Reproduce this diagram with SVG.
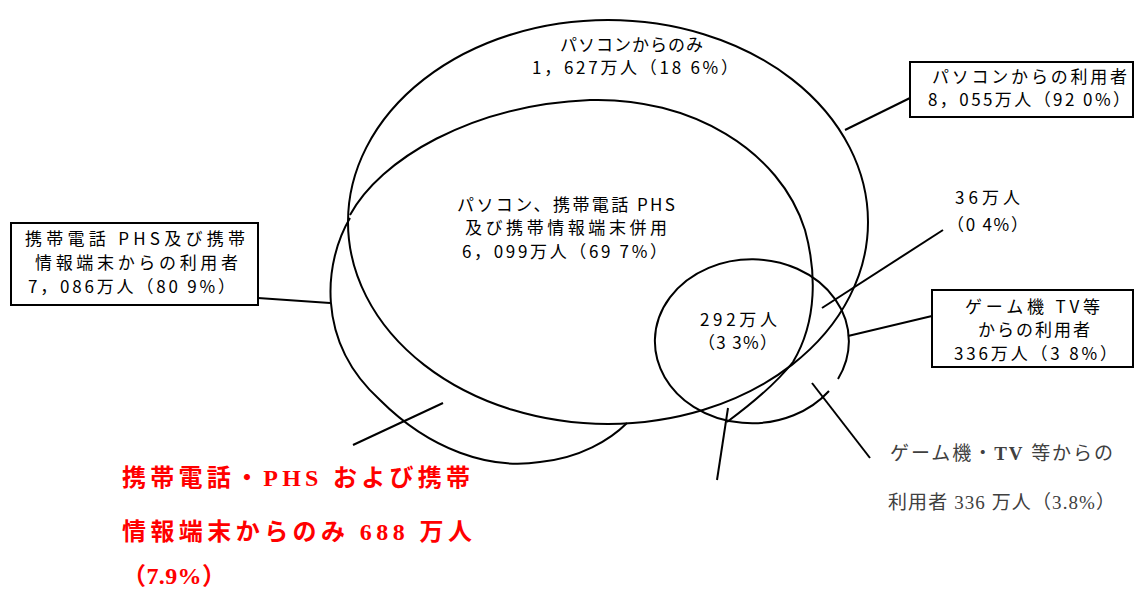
<svg xmlns="http://www.w3.org/2000/svg" width="1136" height="590" viewBox="0 0 1136 590">
<style>
  .ln { fill: none; stroke: #000; stroke-width: 2; }
  .box { fill: #fff; stroke: #000; stroke-width: 2; }
  .hw { font-family: "Noto Sans CJK JP", "Noto Sans", sans-serif; font-size: 17px; fill: #000; }
  .gray { font-family: "Liberation Serif", "Noto Sans CJK JP", serif; font-size: 19px; fill: #404040; }
  .red { font-family: "Liberation Serif", "Noto Sans CJK JP", serif; font-size: 24px; fill: #ff0000; font-weight: bold; }
  .b { font-weight: bold; }
</style>
<rect width="1136" height="590" fill="#fff"/>

<g id="shapes">
  <ellipse id="pc-ellipse" class="ln" cx="608" cy="222" rx="260" ry="202"/>
  <path id="mobile-upper" class="ln" d="M350,215 C380,160 470,105 590,100 C690,97 780,150 805,230 C816,270 818,320 793,362 C775,385 750,405 727,422"/>
  <path id="mobile-lower" class="ln" d="M350,218 C325,260 314,340 380,400 C430,450 490,470 540,462 C580,458 610,440 627,423"/>
  <path id="game-ellipse" class="ln" d="M838,379 A97 82 0 1 0 829,391"/>
</g>

<g id="connectors">
  <line class="ln" x1="845" y1="130" x2="910" y2="98"/>
  <line class="ln" x1="258" y1="298" x2="330" y2="303"/>
  <line class="ln" x1="943" y1="230" x2="822" y2="308"/>
  <line class="ln" x1="848" y1="336" x2="932" y2="316"/>
  <line class="ln" x1="812" y1="383" x2="870" y2="458"/>
  <line class="ln" x1="353" y1="445" x2="443" y2="403"/>
  <line class="ln" x1="728" y1="408" x2="717" y2="480"/>
</g>

<g id="pc-only">
  <text class="hw" x="560" y="51" textLength="143" lengthAdjust="spacing">パソコンからのみ</text>
  <text class="hw" x="532" y="74" textLength="206" lengthAdjust="spacing">1，627万人（18 6%）</text>
</g>

<g id="pc-users">
  <rect class="box" x="910" y="62" width="223" height="55"/>
  <text class="hw" x="932" y="83" textLength="195" lengthAdjust="spacing">パソコンからの利用者</text>
  <text class="hw" x="928" y="106" textLength="202" lengthAdjust="spacing">8，055万人（92 0%）</text>
</g>

<g id="pc-mobile">
  <text class="hw" x="457" y="211" textLength="218" lengthAdjust="spacing">パソコン、携帯電話 PHS</text>
  <text class="hw" x="465" y="234" textLength="202" lengthAdjust="spacing">及び携帯情報端末併用</text>
  <text class="hw" x="462" y="258" textLength="205" lengthAdjust="spacing">6，099万人（69 7%）</text>
</g>

<g id="mobile-users">
  <rect class="box" x="11" y="223" width="247" height="82"/>
  <text class="hw" x="25" y="245" textLength="220" lengthAdjust="spacing">携帯電話 PHS及び携帯</text>
  <text class="hw" x="35" y="269" textLength="203" lengthAdjust="spacing">情報端末からの利用者</text>
  <text class="hw" x="28" y="293" textLength="207" lengthAdjust="spacing">7，086万人（80 9%）</text>
</g>

<g id="n36">
  <text class="hw" x="955" y="204" textLength="65" lengthAdjust="spacing">36万人</text>
  <text class="hw" x="947" y="231" textLength="81" lengthAdjust="spacing">（0 4%）</text>
</g>

<g id="game-users">
  <rect class="box" x="932" y="290" width="201" height="77"/>
  <text class="hw" x="965" y="313" textLength="135" lengthAdjust="spacing">ゲーム機 TV等</text>
  <text class="hw" x="978" y="336" textLength="112" lengthAdjust="spacing">からの利用者</text>
  <text class="hw" x="954" y="360" textLength="163" lengthAdjust="spacing">336万人（3 8%）</text>
</g>

<g id="n292">
  <text class="hw" x="700" y="326" textLength="77" lengthAdjust="spacing">292万人</text>
  <text class="hw" x="698" y="349" textLength="79" lengthAdjust="spacing">（3 3%）</text>
</g>

<g id="game-note">
  <text class="gray" x="890" y="460" textLength="223" lengthAdjust="spacing">ゲーム機・<tspan class="b">TV</tspan> 等からの</text>
  <text class="gray" x="888" y="509" textLength="227" lengthAdjust="spacing">利用者 336 万人（3.8%）</text>
</g>

<g id="mobile-only">
  <text class="red" x="122" y="486" textLength="348" lengthAdjust="spacing">携帯電話・PHS および携帯</text>
  <text class="red" x="122" y="540" textLength="350" lengthAdjust="spacing">情報端末からのみ 688 万人</text>
  <text class="red" x="122" y="584" textLength="104" lengthAdjust="spacing">（7.9%）</text>
</g>
</svg>
